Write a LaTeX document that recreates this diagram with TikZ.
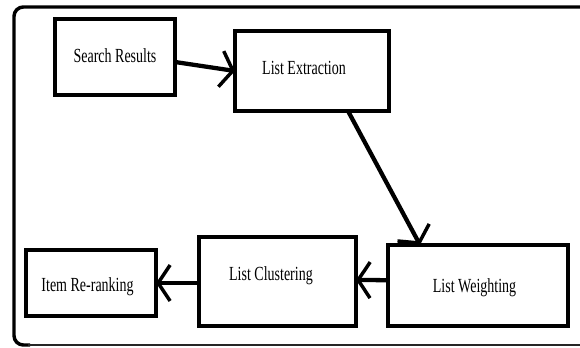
\documentclass[tikz,border=0pt]{standalone}
\usepackage{fontspec}
\newfontfamily\boxfont[FakeStretch=0.7]{Liberation Serif}
\usetikzlibrary{arrows.meta}
\newcommand\bxt[3]{\raisebox{#2}[0pt][0pt]{\makebox[0pt]{\hspace*{#1}#3\hspace*{-#1}}}}
\tikzset{
  stepbox/.style={draw, line width=3pt, inner sep=0pt, outer sep=0pt,
    font=\boxfont\fontsize{15}{18}\selectfont},
  flow/.style={line width=3.2pt, -{Straight Barb[length=9pt, width=27pt, line width=2.6pt]}},
}
\begin{document}
\begin{tikzpicture}[x=0.75pt, y=-0.75pt]
\useasboundingbox (0,0) rectangle (580,348);
% outer frame
\draw[line width=2.6pt, rounded corners=7pt, line cap=butt] (585,7) -- (14,7) -- (14,345) -- (30,345);
\draw[line width=0.8pt, black!85] (28,345) -- (585,345);
% boxes
\node[stepbox, minimum width=90pt, minimum height=57pt] (sr) at (115,57)
  {\bxt{0pt}{-4.5pt}{Search Results}};
\node[stepbox, minimum width=115.5pt, minimum height=60pt] (le) at (312,71)
  {\bxt{-6pt}{-3pt}{List Extraction}};
\node[stepbox, minimum width=135pt, minimum height=61pt] (wt) at (478,285.5)
  {\bxt{-2.6pt}{-4.9pt}{List Weighting}};
\node[stepbox, minimum width=117.75pt, minimum height=66.75pt] (cl) at (277.5,281.5)
  {\bxt{-4.9pt}{1.1pt}{List Clustering}};
\node[stepbox, minimum width=97.5pt, minimum height=49.5pt] (ir) at (91,283)
  {\bxt{-2.6pt}{-6pt}{Item Re-ranking}};
% connectors
\draw[flow] ([yshift=-3.75pt]sr.east) -- (le.west);
\draw[flow] ([xshift=27pt]le.south) -- ([xshift=-43.5pt]wt.north);
\draw[flow] ([yshift=4pt]wt.west) -- ([yshift=1.1pt]cl.east);
\draw[flow] (cl.west |- ir.east) -- (ir.east);
\end{tikzpicture}
\end{document}
